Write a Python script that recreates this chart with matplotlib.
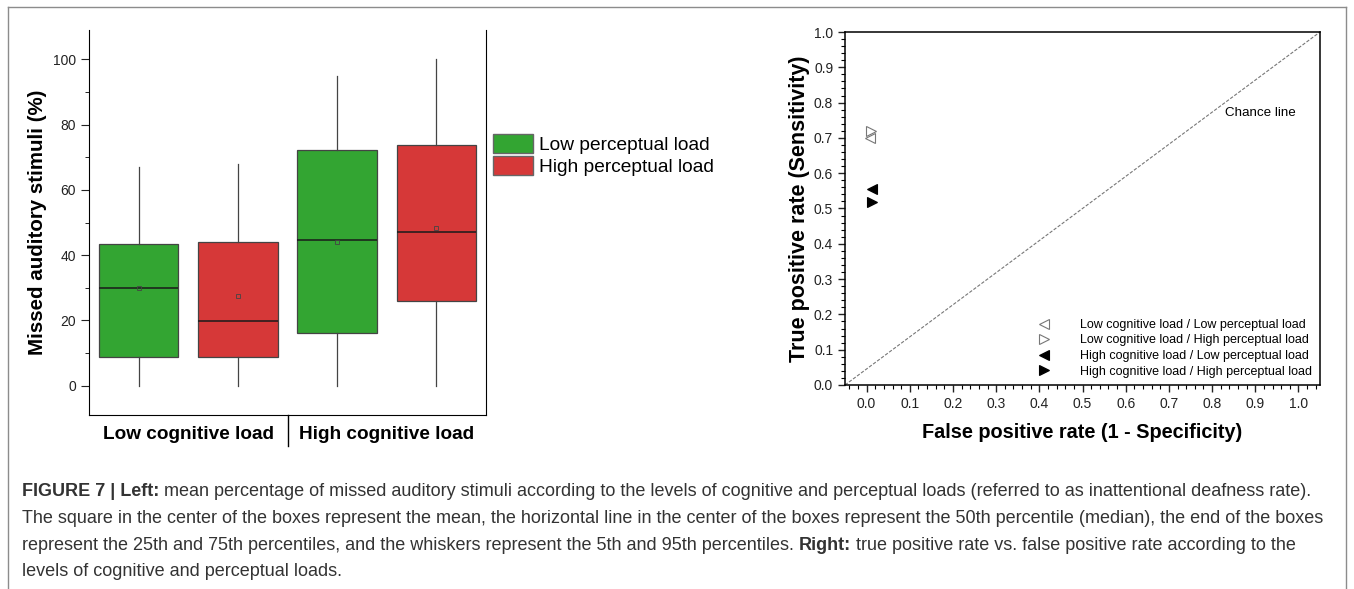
import numpy as np
import matplotlib
matplotlib.use("Agg")
import matplotlib.pyplot as plt
from matplotlib.lines import Line2D
from matplotlib.patches import Patch
from matplotlib.ticker import MultipleLocator, FormatStrFormatter

plt.rcParams["font.family"] = ["Liberation Sans", "DejaVu Sans"]

# DATA (left panel: box stats, in %)
groups = ["Low cognitive load", "High cognitive load"]
series = ["Low perceptual load", "High perceptual load"]
whisk_lo = [0, 0, 0, 0]
q1 = [8.7, 8.7, 16.2, 26.0]
median = [29.9, 19.9, 44.5, 47.1]
q3 = [43.4, 44.1, 72.3, 73.8]
whisk_hi = [67.1, 68.0, 94.9, 100.0]
means = [29.8, 27.5, 44.0, 48.4]

# DATA (right panel: ROC points)
roc_labels = ["Low cognitive load / Low perceptual load",
              "Low cognitive load / High perceptual load",
              "High cognitive load / Low perceptual load",
              "High cognitive load / High perceptual load"]
fpr = [0.007, 0.010, 0.012, 0.012]
tpr = [0.700, 0.720, 0.554, 0.518]

caption = [
    [("FIGURE 7 | Left:", "bold"), (" mean percentage of missed auditory stimuli according to the levels of cognitive and perceptual loads (referred to as inattentional deafness rate).", "normal")],
    [("The square in the center of the boxes represent the mean, the horizontal line in the center of the boxes represent the 50th percentile (median), the end of the boxes", "normal")],
    [("represent the 25th and 75th percentiles, and the whiskers represent the 5th and 95th percentiles. ", "normal"), ("Right:", "bold"), (" true positive rate vs. false positive rate according to the", "normal")],
    [("levels of cognitive and perceptual loads.", "normal")],
]

green = "#33a532"
red = "#d63838"
colors = [green, red, green, red]

W, H = 1354, 589
fig = plt.figure(figsize=(W / 100, H / 100), dpi=100)

# outer frame
frame_kw = dict(color="#8c8c8c", lw=1.0, transform=fig.transFigure)
fig.add_artist(Line2D([8 / W, 1346 / W], [1 - 7 / H, 1 - 7 / H], **frame_kw))
fig.add_artist(Line2D([8 / W, 8 / W], [0, 1 - 7 / H], **frame_kw))
fig.add_artist(Line2D([1346 / W, 1346 / W], [0, 1 - 7 / H], **frame_kw))

# LEFT PANEL
ax1 = fig.add_axes([89 / W, 1 - 415 / H, (486 - 89) / W, (415 - 30) / H])
stats = []
for i in range(4):
    stats.append(dict(med=median[i], q1=q1[i], q3=q3[i], whislo=whisk_lo[i],
                      whishi=whisk_hi[i], mean=means[i], fliers=[]))
bp = ax1.bxp(stats, positions=[1, 2, 3, 4], widths=0.8, patch_artist=True,
             showmeans=True, showcaps=False,
             boxprops=dict(edgecolor="#444444", linewidth=0.9),
             medianprops=dict(color="#1a1a1a", linewidth=1.1),
             whiskerprops=dict(color="#444444", linewidth=0.9),
             meanprops=dict(marker="s", markersize=3.5, markerfacecolor="none",
                            markeredgecolor="#444444", markeredgewidth=0.6))
for patch, c in zip(bp["boxes"], colors):
    patch.set_facecolor(c)

ax1.set_xlim(0.5, 4.5)
ax1.spines["top"].set_visible(False)
ax1.set_yticks([0, 20, 40, 60, 80, 100])
ax1.yaxis.set_minor_locator(MultipleLocator(10))
ax1.set_ylim(-9, 109)
ax1.tick_params(axis="y", which="major", length=6, labelsize=10, colors="#222222")
ax1.tick_params(axis="y", which="minor", length=3)
ax1.set_xticks([1.5, 3.5])
ax1.set_xticklabels(groups, fontsize=13.7, fontweight="bold")
ax1.tick_params(axis="x", length=0, pad=8)
ax1.set_ylabel("Missed auditory stimuli (%)", fontsize=14.8, fontweight="bold")
ax1.yaxis.set_label_coords(-42 / 397, 0.5)
ax1.plot([2.5, 2.5], [0, -0.08], color="black", lw=1.0,
         transform=ax1.get_xaxis_transform(), clip_on=False)

handles = [Patch(facecolor=green, edgecolor="#666666", label=series[0]),
           Patch(facecolor=red, edgecolor="#666666", label=series[1])]
fig.legend(handles=handles, loc="upper left", bbox_to_anchor=(493 / W, 1 - 134 / H),
           frameon=False, fontsize=13.8, handlelength=2.1, handleheight=1.15,
           handletextpad=0.3, labelspacing=0.12, borderaxespad=0, borderpad=0)

# RIGHT PANEL
ax2 = fig.add_axes([845 / W, 1 - 385 / H, (1320 - 845) / W, (385 - 32) / H])
ax2.plot([-0.05, 1.05], [0, 1], color="#777777", lw=0.8, ls=(0, (3, 1.5)))
ax2.text(0.83, 0.77, "Chance line", fontsize=9.6, ha="left", va="center")

markers = ["<", ">", "<", ">"]
faces = ["none", "none", "black", "black"]
edges = ["#777777", "#777777", "black", "black"]
for x, y, m, fc, ec, lab in zip(fpr, tpr, markers, faces, edges, roc_labels):
    ax2.plot([x], [y], ls="", marker=m, markersize=7, markerfacecolor=fc,
             markeredgecolor=ec, markeredgewidth=0.8, label=lab)
ax2.legend(loc="lower right", bbox_to_anchor=(1.0, 0.0), frameon=False,
           fontsize=9.0, handlelength=1.0, handletextpad=2.4, labelspacing=0.28,
           borderpad=0.3, borderaxespad=0.3)

ax2.set_xticks(np.round(np.arange(0, 1.01, 0.1), 1))
ax2.xaxis.set_minor_locator(MultipleLocator(0.02))
ax2.yaxis.set_major_locator(MultipleLocator(0.1))
ax2.yaxis.set_minor_locator(MultipleLocator(0.02))
ax2.set_xlim(-0.05, 1.05)
ax2.set_ylim(0, 1)
ax2.xaxis.set_major_formatter(FormatStrFormatter("%.1f"))
ax2.yaxis.set_major_formatter(FormatStrFormatter("%.1f"))
ax2.tick_params(which="major", length=5, width=1.0, labelsize=10, colors="#222222")
ax2.tick_params(which="minor", length=3, width=0.8)
ax2.set_xlabel("False positive rate (1 - Specificity)", fontsize=14.3, fontweight="bold", labelpad=9)
ax2.set_ylabel("True positive rate (Sensitivity)", fontsize=15.5, fontweight="bold", labelpad=3)
for s in ax2.spines.values():
    s.set_linewidth(1.1)

# CAPTION
fig.canvas.draw()
renderer = fig.canvas.get_renderer()
y0 = 492
for line in caption:
    x = 22
    for txt, wt in line:
        t = fig.text(x / W, 1 - y0 / H, txt, fontsize=13.0, fontweight=wt,
                     color="#333333", ha="left", va="center")
        bb = t.get_window_extent(renderer=renderer)
        x += bb.width
    y0 += 26.5

fig.savefig("out.png", dpi=100)
